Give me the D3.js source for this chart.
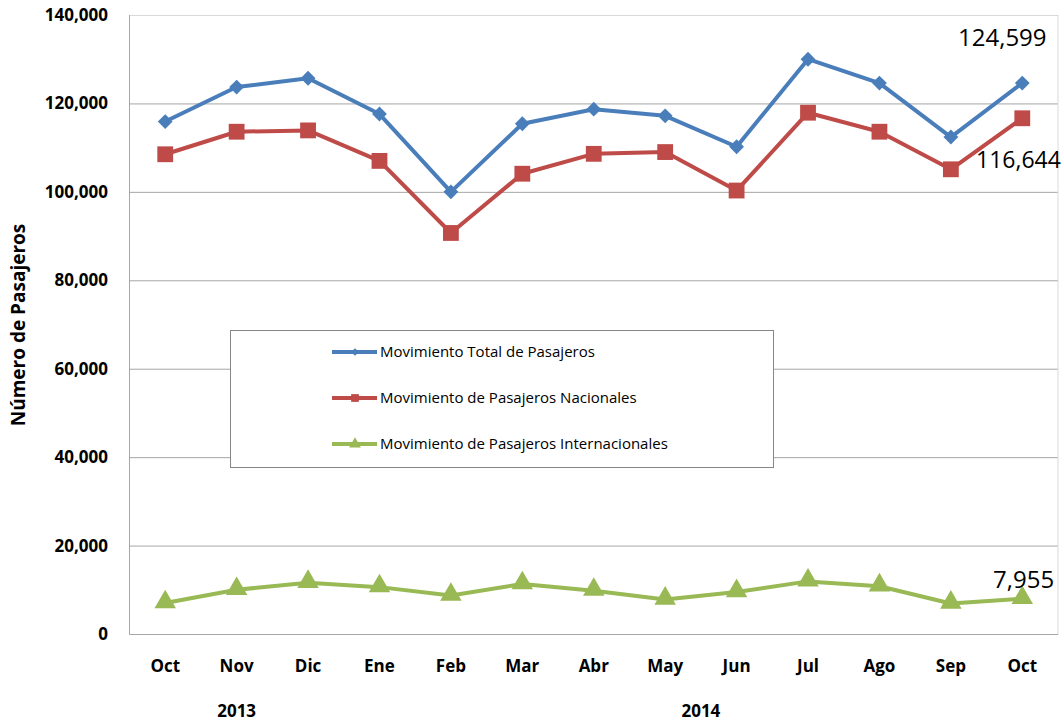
<!DOCTYPE html>
<html><head><meta charset="utf-8">
<script src="https://cdn.jsdelivr.net/npm/d3@7"></script>
<style>body{margin:0;background:#fff}svg{display:block}</style>
</head><body>
<svg id="c" width="1062" height="721"></svg>
<script>
const months = ["Oct","Nov","Dic","Ene","Feb","Mar","Abr","May","Jun","Jul","Ago","Sep","Oct"];
const years = [{label:"2013", from:0, to:2}, {label:"2014", from:3, to:12}];
const total = [115900,123700,125700,117600,100000,115400,118700,117200,110200,130000,124600,112400,124599];
const nacional = [108500,113600,113900,107000,90700,104100,108600,109000,100300,117900,113600,105100,116644];
const internacional = [7000,10000,11600,10600,8700,11300,9800,7800,9500,11900,10800,6900,7955];
const yTicks = [0,20000,40000,60000,80000,100000,120000,140000];
const seriesNames = ["Movimiento Total de Pasajeros","Movimiento de Pasajeros Nacionales","Movimiento de Pasajeros Internacionales"];
const colors = ["#4a7ebb","#be4b48","#98b954"];
const yTitle = "Número de Pasajeros";

const svg = d3.select("#c");
const L = 129.5, R = 1058, T = 15, B = 634;
const x = d3.scaleBand().domain(d3.range(months.length)).range([L, R]);
const cx = i => x(i) + x.bandwidth()/2;
const y = d3.scaleLinear().domain([0,140000]).range([B, T]);
const fmt = d3.format(",");
const FONT = "'Open Sans', sans-serif";

// gridlines
svg.append("g").selectAll("line").data(yTicks.filter(d=>d>0)).join("line")
  .attr("x1",L).attr("x2",R).attr("y1",d=>y(d)+0.5).attr("y2",d=>y(d)+0.5)
  .attr("stroke","#a6a6a6").attr("stroke-width",1);
// plot frame
svg.append("rect").attr("x",L).attr("y",T+0.5).attr("width",R-L).attr("height",B-T)
  .attr("fill","none").attr("stroke","#d9d9d9").attr("stroke-width",1);
// axes lines
svg.append("line").attr("x1",L).attr("x2",L).attr("y1",T).attr("y2",B).attr("stroke","#a6a6a6");
svg.append("line").attr("x1",L).attr("x2",R).attr("y1",B+0.5).attr("y2",B+0.5).attr("stroke","#a6a6a6");

// y tick labels
svg.append("g").selectAll("text").data(yTicks).join("text")
  .attr("x",108).attr("y",d=>y(d)).attr("dy","0.35em").attr("text-anchor","end")
  .attr("font-family",FONT).attr("font-weight","bold").attr("font-size",17)
  .attr("fill","#000").text(d=>fmt(d));
// y title
svg.append("text").attr("transform","translate(25,325) rotate(-90)").attr("text-anchor","middle")
  .attr("font-family",FONT).attr("font-weight","bold").attr("font-size",19)
  .text(yTitle);
// x labels
svg.append("g").selectAll("text").data(months).join("text")
  .attr("x",(d,i)=>cx(i)).attr("y",672).attr("text-anchor","middle")
  .attr("font-family",FONT).attr("font-weight","bold").attr("font-size",17)
  .text(d=>d);
svg.append("g").selectAll("text").data(years).join("text")
  .attr("x",d=>d.label==="2013" ? cx(1) : (cx(d.from)+cx(d.to))/2)
  .attr("y",717).attr("text-anchor","middle")
  .attr("font-family",FONT).attr("font-weight","bold").attr("font-size",17)
  .text(d=>d.label);

const data = [total, nacional, internacional];
const line = d3.line().x((d,i)=>cx(i)).y(d=>y(d));
const symTypes = [d3.symbolSquare, d3.symbolSquare, d3.symbolTriangle];
const sizes = [110, 250, 200];

data.forEach((s,k)=>{
  svg.append("path").datum(s).attr("d",line).attr("fill","none")
    .attr("stroke",colors[k]).attr("stroke-width",4).attr("stroke-linejoin","round");
});
data.forEach((s,k)=>{
  svg.append("g").selectAll("path").data(s).join("path")
    .attr("d",d3.symbol().type(symTypes[k]).size(sizes[k]))
    .attr("transform",(d,i)=>`translate(${cx(i)},${y(d)})${k===0?" rotate(45)":""}${k===2?" translate(0,-1)":""}`)
    .attr("fill",colors[k]);
});

// data labels
const lbl = (txt,xx,yy,fs)=>svg.append("text").attr("x",xx).attr("y",yy)
  .attr("font-family",FONT).attr("font-size",fs).attr("fill","#000").text(txt);
const last = months.length-1;
lbl(fmt(total[last]), 958, 46, 24);
lbl(fmt(nacional[last]), 976, 168, 23);
lbl(fmt(internacional[last]), 993, 588, 24);

// legend
const lg = svg.append("g");
lg.append("rect").attr("x",230.5).attr("y",330.5).attr("width",543).attr("height",137)
  .attr("fill","#fff").attr("stroke","#868686");
seriesNames.forEach((n,k)=>{
  const yy = 352 + k*46;
  lg.append("line").attr("x1",332).attr("x2",377).attr("y1",yy).attr("y2",yy)
    .attr("stroke",colors[k]).attr("stroke-width",4);
  lg.append("path").attr("transform",`translate(355,${yy})${k===0?" rotate(45)":""}`)
    .attr("d",d3.symbol().type(symTypes[k]).size(k===0?30:60)).attr("fill",colors[k]);
  lg.append("text").attr("x",380).attr("y",yy).attr("dy","0.35em")
    .attr("font-family",FONT).attr("font-size",15).attr("fill","#000").text(n);
});
</script>
</body></html>
